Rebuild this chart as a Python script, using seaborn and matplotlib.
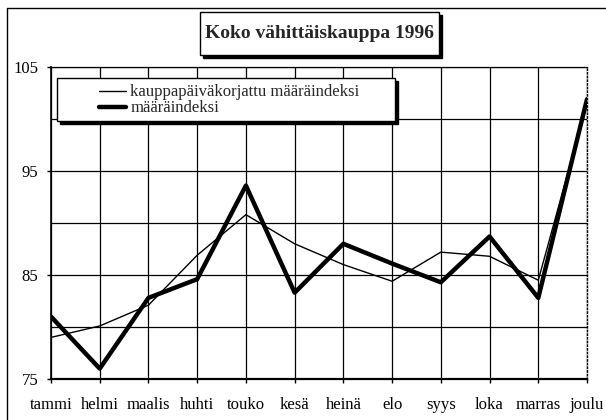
import matplotlib
matplotlib.use("Agg")
import matplotlib.pyplot as plt
from matplotlib.patches import Rectangle
from matplotlib.lines import Line2D
from matplotlib.ticker import FixedLocator
import seaborn as sns
import pandas as pd

# Kuukaudet ja indeksit (luettu kuvasta)
kuukaudet = ["tammi", "helmi", "maalis", "huhti", "touko", "kesä",
             "heinä", "elo", "syys", "loka", "marras", "joulu"]
korjattu = [79.0, 80.1, 82.1, 86.9, 90.8, 88.0, 86.0, 84.4, 87.2, 86.8, 84.5, 101.5]
maara = [81.0, 76.0, 82.8, 84.6, 93.6, 83.3, 88.0, 86.1, 84.3, 88.7, 82.8, 101.9]
y_tikit = [75, 85, 95, 105]
y_apu = [80, 90, 100]

W, H = 606, 420

sns.set_style("white")
plt.rcParams["font.family"] = ["Liberation Serif", "DejaVu Serif"]


def px(x, y):
    # pikselit -> figure-koordinaatit
    return x / W, 1 - y / H


def laatikko(fig, x0, y0, x1, y1, varjo=3):
    fig.add_artist(Rectangle(px(x0 + varjo, y1 + varjo), (x1 - x0) / W, (y1 - y0) / H,
                             transform=fig.transFigure, facecolor="black",
                             edgecolor="black", zorder=1))
    fig.add_artist(Rectangle(px(x0, y1), (x1 - x0) / W, (y1 - y0) / H,
                             transform=fig.transFigure, facecolor="white",
                             edgecolor="black", lw=1.0, zorder=2))


df = pd.DataFrame({"kk": kuukaudet, "korjattu": korjattu, "maara": maara})

fig = plt.figure(figsize=(W / 100, H / 100), dpi=100)
ax = fig.add_axes([51 / W, 1 - 379 / H, 536 / W, 312 / H])

sns.lineplot(data=df, x="kk", y="korjattu", sort=False, color="black", lw=1.0,
             label="kauppapäiväkorjattu määräindeksi", ax=ax, zorder=3)
sns.lineplot(data=df, x="kk", y="maara", sort=False, color="black", lw=3.2,
             label="määräindeksi", ax=ax, zorder=4)

ax.set_xlim(0, 11)
ax.set_ylim(75, 105)
ax.set_yticks(y_tikit)
ax.yaxis.set_minor_locator(FixedLocator(y_apu))
ax.grid(True, which="both", color="black", lw=0.9)
ax.set_axisbelow(True)
ax.set_xlabel("")
ax.set_ylabel("")
ax.tick_params(axis="x", which="major", direction="out", length=3, width=1,
               bottom=True, labelsize=12, pad=10, colors="black")
ax.tick_params(axis="y", which="major", direction="out", length=3, width=1,
               left=True, labelsize=12, pad=6, colors="black")
ax.tick_params(axis="y", which="minor", length=0)

for s in ["left", "bottom", "top"]:
    ax.spines[s].set_color("black")
ax.spines["left"].set_linewidth(1.2)
ax.spines["bottom"].set_linewidth(1.6)
ax.spines["top"].set_linewidth(0.9)
ax.spines["right"].set_linestyle(":")
ax.spines["right"].set_color("black")
ax.spines["right"].set_linewidth(1.0)

# Legenda omaan laatikkoon
kahvat, tekstit = ax.get_legend_handles_labels()
ax.get_legend().remove()
laatikko(fig, 57, 78, 395, 121)
fig.legend(kahvat, tekstit, loc="upper left", bbox_to_anchor=px(96, 81),
           bbox_transform=fig.transFigure, frameon=False, fontsize=12,
           handlelength=1.6, handletextpad=0.25, labelspacing=0.0,
           borderpad=0.2, borderaxespad=0)

# Otsikko laatikossa
laatikko(fig, 200, 12, 439, 55)
fig.text(*px(319.5, 34), "Koko vähittäiskauppa 1996", ha="center", va="center",
         fontsize=14, fontweight="bold", zorder=3)

# Ulkokehys
fig.add_artist(Line2D([7 / W, 7 / W, 1.0], [0.0, 1 - 8 / H, 1 - 8 / H],
                      transform=fig.transFigure, color="black", lw=1.0))

fig.savefig("out.png", dpi=100)
